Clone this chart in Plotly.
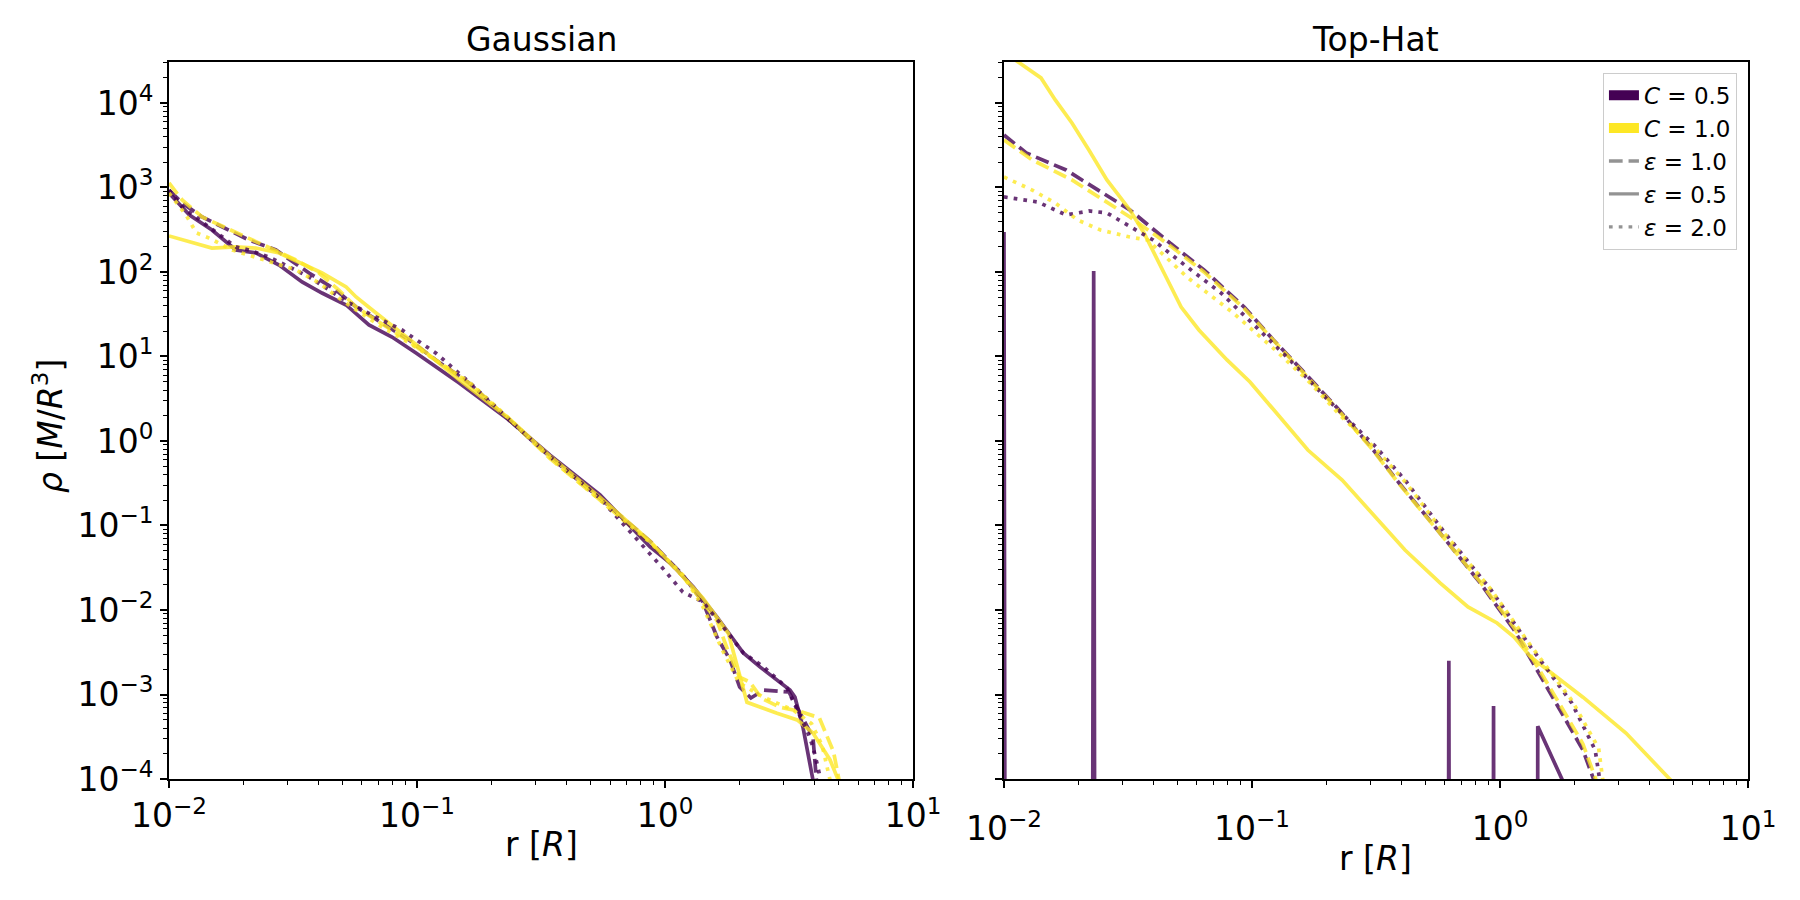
import plotly.graph_objects as go

# ---------------- data (r in units of R, rho in M/R^3) ----------------
# Gaussian panel
g_c05_e05_r = [0.0100, 0.0121, 0.0149, 0.0186, 0.0224, 0.0278, 0.0344, 0.0414, 0.0518, 0.0640, 0.0793, 0.0991,
               0.148, 0.235, 0.344, 0.547, 0.871, 1.05, 1.30, 1.62, 2.07, 2.42, 3.19, 3.34, 3.60, 4.00]
g_c05_e05_rho = [861, 473, 314, 182, 168, 121, 76.2, 56.4, 40.7, 23.6, 17.0, 11.0,
                 4.86, 1.77, 0.68, 0.23, 0.0557, 0.036, 0.0187, 0.00826, 0.0031, 0.00211, 0.00113, 0.00093, 0.00041, 0.00008]

g_c10_e05_r = [0.0100, 0.0149, 0.0186, 0.0224, 0.0278, 0.0334, 0.0414, 0.0518, 0.0568, 0.0684, 0.0870, 0.0991,
               0.148, 0.235, 0.344, 0.547, 0.871, 1.18, 1.42, 1.80, 2.14, 2.83, 3.41, 3.95, 4.63, 5.05]
g_c10_e05_rho = [267, 192, 198, 192, 168, 131, 97.3, 66.4, 50.6, 32.7, 18.8, 13.9,
                 5.3, 1.85, 0.66, 0.215, 0.065, 0.0245, 0.0139, 0.0053, 0.00081, 0.0006, 0.0005, 0.00035, 0.000168, 0.00009]

g_c05_e10_r = [0.0100, 0.0113, 0.0136, 0.0164, 0.0210, 0.0270, 0.0367, 0.0471, 0.0568, 0.0723, 0.0929, 0.119,
               0.162, 0.235, 0.344, 0.547, 0.871, 1.18, 1.42, 1.62, 1.83, 2.00, 2.22, 2.50, 3.16, 3.95, 4.10]
g_c05_e10_rho = [933, 656, 448, 341, 239, 182, 97.3, 61.2, 38.5, 24.9, 15.7, 9.1,
                 4.86, 1.77, 0.65, 0.21, 0.065, 0.026, 0.0125, 0.0048, 0.00256, 0.00123, 0.00091, 0.00113, 0.00107, 0.00031, 0.00008]

g_c10_e10_r = [0.0100, 0.0113, 0.0136, 0.0170, 0.0210, 0.0253, 0.0325, 0.0403, 0.0484, 0.0568, 0.0684, 0.0870,
               0.119, 0.162, 0.235, 0.344, 0.547, 0.871, 1.18, 1.62, 1.80, 2.00, 2.20, 2.45, 2.90, 3.50, 4.19, 4.78, 5.10]
g_c10_e10_rho = [1130, 711, 448, 332, 252, 198, 139, 97.3, 61.2, 38.5, 27.0, 17.0,
                 9.1, 4.86, 1.80, 0.62, 0.20, 0.062, 0.025, 0.0075, 0.0032, 0.0016, 0.0014, 0.0009, 0.00071, 0.00063, 0.00053, 0.00021, 0.00008]

g_c05_e20_r = [0.0100, 0.0113, 0.0145, 0.0164, 0.0186, 0.0210, 0.0253, 0.0305, 0.0367, 0.0442, 0.0532, 0.0684,
               0.0870, 0.119, 0.162, 0.235, 0.344, 0.547, 0.800, 0.955, 1.18, 1.42, 1.78, 2.07, 2.50, 2.90, 3.10,
               3.77, 3.95, 4.13, 4.30]
g_c05_e20_rho = [933, 589, 341, 259, 198, 182, 150, 115, 87.3, 61.2, 43.0, 29.3,
                 20.6, 11.0, 5.0, 1.8, 0.65, 0.21, 0.06, 0.034, 0.0163, 0.0125, 0.0055, 0.0031, 0.00212, 0.0014, 0.0012,
                 0.00035, 0.00024, 0.00014, 0.00008]

g_c10_e20_r = [0.0100, 0.0117, 0.0129, 0.0145, 0.0180, 0.0224, 0.0270, 0.0325, 0.0403, 0.0471, 0.0568, 0.0723,
               0.0929, 0.119, 0.162, 0.235, 0.344, 0.547, 0.871, 1.18, 1.42, 1.70, 1.99, 2.49, 3.30, 3.90, 4.30, 4.70]
g_c10_e20_rho = [861, 473, 290, 252, 182, 150, 128, 106, 74.1, 52.0, 35.5, 22.3,
                 14.5, 9.1, 5.0, 1.85, 0.63, 0.20, 0.063, 0.026, 0.011, 0.0034, 0.00137, 0.00093, 0.00065, 0.00045, 0.00025, 0.00008]

# Top-Hat panel (1e-30 marks empty bins, i.e. zero density, which falls off the log axis)
t_c05_e05_r = [0.0100, 0.0104, 0.0220, 0.0230, 0.0240, 0.600, 0.622, 0.645, 0.920, 0.942, 0.965, 1.39, 1.42, 1.84, 1.90]
t_c05_e05_rho = [297, 1e-30, 1e-30, 103, 1e-30, 1e-30, 0.0025, 1e-30, 1e-30, 0.00073, 1e-30, 1e-30, 0.00042, 0.00008, 1e-30]

t_c10_e05_r = [0.0100, 0.0114, 0.0141, 0.0161, 0.0188, 0.0220, 0.0260, 0.0322, 0.0367, 0.0442, 0.0518, 0.0611,
               0.0793, 0.0982, 0.122, 0.168, 0.231, 0.316, 0.414, 0.573, 0.743, 0.973, 1.14, 1.33, 2.16, 3.22, 5.00]
t_c10_e05_rho = [40000, 30550, 19800, 10860, 5800, 2780, 1228, 542, 290, 97.3, 38.5, 20.6,
                 9.1, 5.0, 2.33, 0.782, 0.345, 0.126, 0.0513, 0.0209, 0.01086, 0.00702, 0.00479, 0.00278, 0.00093, 0.00035, 0.00009]

t_c05_e10_r = [0.0100, 0.0123, 0.0178, 0.0233, 0.0322, 0.0467, 0.0640, 0.0930, 0.122, 0.159, 0.219, 0.302,
               0.392, 0.573, 0.832, 1.14, 1.41, 1.75, 2.16, 2.45]
t_c05_e10_rho = [4180, 2560, 1610, 988, 542, 220, 106, 38.5, 15.7, 6.9, 2.52, 0.85,
                 0.318, 0.0815, 0.0209, 0.0058, 0.00195, 0.00066, 0.00022, 0.00008]

t_c10_e10_r = [0.0100, 0.0130, 0.0188, 0.0322, 0.0467, 0.0640, 0.0930, 0.122, 0.159, 0.219, 0.302, 0.392,
               0.573, 0.832, 1.14, 1.41, 1.75, 2.16, 2.50]
t_c10_e10_rho = [3650, 2120, 1228, 448, 205, 100, 37.0, 15.3, 6.7, 2.45, 0.83, 0.31,
                 0.080, 0.0215, 0.0062, 0.0022, 0.00075, 0.00026, 0.00008]

t_c05_e20_r = [0.0100, 0.0137, 0.0178, 0.0220, 0.0260, 0.0290, 0.0337, 0.0399, 0.0547, 0.0750, 0.104, 0.142,
               0.197, 0.316, 0.414, 0.600, 0.920, 1.33, 1.95, 2.42, 2.55]
t_c05_e20_rho = [773, 673, 473, 527, 500, 412, 314, 239, 115, 56.4, 22.3, 9.1,
                 3.32, 0.85, 0.345, 0.0815, 0.0173, 0.00365, 0.00079, 0.00022, 0.00008]

t_c10_e20_r = [0.0100, 0.0130, 0.0161, 0.0198, 0.0245, 0.0322, 0.0380, 0.0547, 0.0840, 0.122, 0.168, 0.231,
               0.316, 0.414, 0.600, 0.920, 1.33, 1.95, 2.50, 2.62]
t_c10_e20_rho = [1330, 933, 656, 412, 314, 259, 239, 87, 32.7, 12.5, 5.2, 1.9,
                 0.80, 0.33, 0.079, 0.0175, 0.0038, 0.00085, 0.00023, 0.00008]

panel_titles = ["Gaussian", "Top-Hat"]
c_labels = ["<i>C</i> = 0.5", "<i>C</i> = 1.0"]
eps_labels = ["<i>ε</i> = 1.0", "<i>ε</i> = 0.5", "<i>ε</i> = 2.0"]
x_tick_vals = [0.01, 0.1, 1, 10]
x_tick_text = ["10<sup>−2</sup>", "10<sup>−1</sup>", "10<sup>0</sup>", "10<sup>1</sup>"]
y_tick_vals = [1e-4, 1e-3, 1e-2, 1e-1, 1, 10, 100, 1e3, 1e4]
y_tick_text = ["10<sup>−4</sup>", "10<sup>−3</sup>", "10<sup>−2</sup>", "10<sup>−1</sup>", "10<sup>0</sup>",
               "10<sup>1</sup>", "10<sup>2</sup>", "10<sup>3</sup>", "10<sup>4</sup>"]

# ---------------- styling ----------------
PURPLE = "rgba(68,1,84,0.8)"
YELLOW = "rgba(253,231,37,0.8)"
LW = 3.7
DASH = {"1.0": "13.7px,5.9px", "0.5": "solid", "2.0": "3.7px,6.1px"}
FONT = "DejaVu Sans"

curves = [
    (1, PURPLE, "1.0", g_c05_e10_r, g_c05_e10_rho),
    (1, YELLOW, "1.0", g_c10_e10_r, g_c10_e10_rho),
    (1, PURPLE, "0.5", g_c05_e05_r, g_c05_e05_rho),
    (1, YELLOW, "0.5", g_c10_e05_r, g_c10_e05_rho),
    (1, PURPLE, "2.0", g_c05_e20_r, g_c05_e20_rho),
    (1, YELLOW, "2.0", g_c10_e20_r, g_c10_e20_rho),
    (2, PURPLE, "1.0", t_c05_e10_r, t_c05_e10_rho),
    (2, YELLOW, "1.0", t_c10_e10_r, t_c10_e10_rho),
    (2, PURPLE, "0.5", t_c05_e05_r, t_c05_e05_rho),
    (2, YELLOW, "0.5", t_c10_e05_r, t_c10_e05_rho),
    (2, PURPLE, "2.0", t_c05_e20_r, t_c05_e20_rho),
    (2, YELLOW, "2.0", t_c10_e20_r, t_c10_e20_rho),
]

fig = go.Figure()
for panel, col, eps, r, rho in curves:
    fig.add_trace(go.Scatter(
        x=r, y=rho, mode="lines",
        line=dict(color=col, width=LW, dash=DASH[eps]),
        xaxis="x" if panel == 1 else "x2", yaxis="y" if panel == 1 else "y2",
        showlegend=False, hoverinfo="skip"))

# legend entries
for lab, col in zip(c_labels, ["#440154", "#fde725"]):
    fig.add_trace(go.Scatter(x=[None], y=[None], mode="lines", name=lab,
                             line=dict(color=col, width=10), xaxis="x2", yaxis="y2"))
for lab, eps in zip(eps_labels, ["1.0", "0.5", "2.0"]):
    fig.add_trace(go.Scatter(x=[None], y=[None], mode="lines", name=lab,
                             line=dict(color="rgba(128,128,128,0.85)", width=3.3, dash=DASH[eps]),
                             xaxis="x2", yaxis="y2"))

x_minor = [m * 10.0 ** k for k in (-2, -1, 0) for m in range(2, 10)]
y_minor = [m * 10.0 ** k for k in range(-4, 5) for m in range(2, 10)]

common = dict(type="log", showline=True, linecolor="black", linewidth=1.7, mirror=True,
              ticks="outside", ticklen=7, tickwidth=1.7, tickcolor="black",
              showgrid=False, zeroline=False, tickfont=dict(family=FONT, size=33, color="black"))

xa = dict(common, range=[-2, 1], tickmode="array", tickvals=x_tick_vals, ticktext=x_tick_text,
          minor=dict(tickmode="array", tickvals=x_minor, ticks="outside", ticklen=4, tickwidth=1.2,
                     tickcolor="black", showgrid=False))
ya = dict(common, range=[-4, 4.485], tickmode="array", tickvals=y_tick_vals, ticktext=y_tick_text,
          minor=dict(tickmode="array", tickvals=y_minor, ticks="outside", ticklen=4, tickwidth=1.2,
                     tickcolor="black", showgrid=False))

fig.update_layout(
    width=1800, height=900,
    margin=dict(l=169, r=52, t=62, b=121),
    paper_bgcolor="white", plot_bgcolor="white",
    font=dict(family=FONT, size=33, color="black"),
    xaxis=dict(xa, domain=[0, 0.4712], anchor="y"),
    xaxis2=dict(xa, domain=[0.5288, 1], anchor="y2", ticklabelstandoff=13),
    yaxis=dict(ya, domain=[0, 1], anchor="x"),
    yaxis2=dict(ya, domain=[0, 1], anchor="x2", showticklabels=False),
    legend=dict(x=0.993, y=0.985, xanchor="right", yanchor="top", bgcolor="white",
                bordercolor="#cccccc", borderwidth=1, font=dict(family=FONT, size=23, color="black"),
                itemwidth=30, tracegroupgap=0),
    showlegend=True,
)

annots = [
    dict(text=panel_titles[0], x=0.2356, y=1.0310, xref="paper", yref="paper", xanchor="center", yanchor="middle",
         showarrow=False, font=dict(family=FONT, size=33)),
    dict(text=panel_titles[1], x=0.7644, y=1.0310, xref="paper", yref="paper", xanchor="center", yanchor="middle",
         showarrow=False, font=dict(family=FONT, size=33)),
    dict(text="r [<i>R</i>]", x=0.2356, y=-0.092, xref="paper", yref="paper", xanchor="center", yanchor="middle",
         showarrow=False, font=dict(family=FONT, size=33)),
    dict(text="r [<i>R</i>]", x=0.7644, y=-0.111, xref="paper", yref="paper", xanchor="center", yanchor="middle",
         showarrow=False, font=dict(family=FONT, size=33)),
    dict(text="<i>ρ</i> [<i>M</i>/<i>R</i><sup>3</sup>]", x=-0.0766, y=0.4923, xref="paper", yref="paper",
         xanchor="center", yanchor="middle", textangle=-90, showarrow=False, font=dict(family=FONT, size=33)),
]
fig.update_layout(annotations=annots)

fig.write_html("out.html")
